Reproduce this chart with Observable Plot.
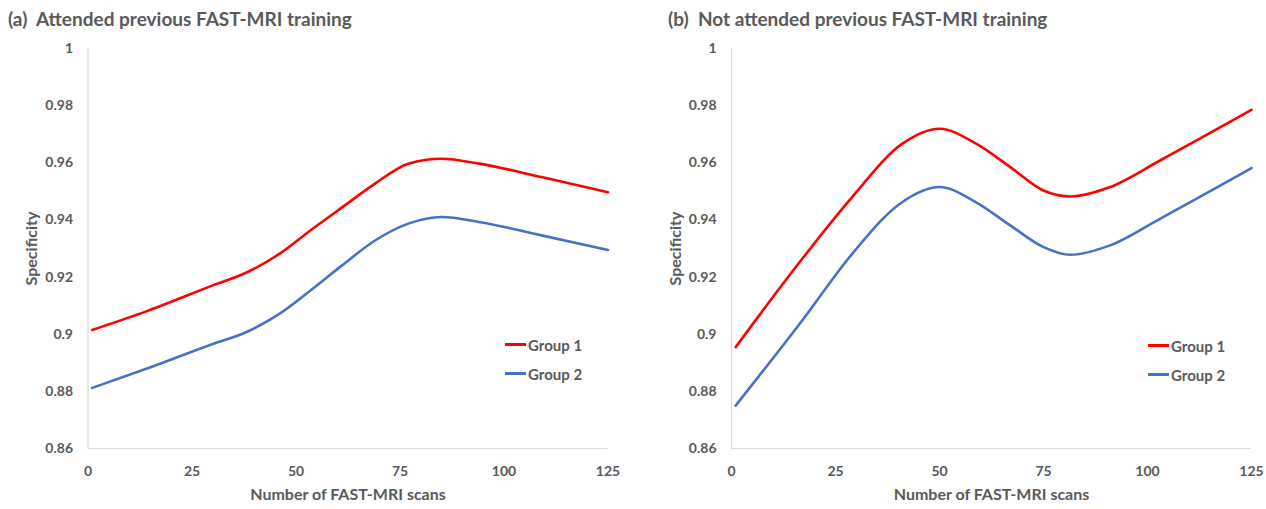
<!DOCTYPE html>
<html>
<head>
<meta charset="utf-8">
<script src="https://cdn.jsdelivr.net/npm/d3@7"></script>
<script src="https://cdn.jsdelivr.net/npm/@observablehq/plot@0.6"></script>
<style>
  html, body { margin: 0; padding: 0; background: #fff; }
  body { width: 1266px; height: 509px; position: relative; overflow: hidden; font-family: Lato, "Open Sans", sans-serif; }
  .panel { position: absolute; top: 0; width: 633px; height: 509px; }
  .title { position: absolute; top: 7px; font-size: 19px; font-weight: bold; color: #595959; white-space: pre; }
  .legend { position: absolute; font-size: 15px; font-weight: bold; color: #595959; }
  .legend div { display: flex; align-items: center; height: 29px; }
  .legend span.sw { display: inline-block; width: 21px; height: 2.5px; margin-right: 2px; }
  .panel svg { position: absolute; left: 0; top: 0; }
</style>
</head>
<body>
<div id="pa" class="panel" style="left:0"></div>
<div id="pb" class="panel" style="left:633px"></div>
<script>
// ---- data ----
const titles = ["(a)  Attended previous FAST-MRI training", "(b)  Not attended previous FAST-MRI training"];
const seriesNames = ["Group 1", "Group 2"];
const seriesColors = ["#FF0000", "#4472C4"];
const xTicks = [0, 25, 50, 75, 100, 125];
const yTicks = [0.86, 0.88, 0.9, 0.92, 0.94, 0.96, 0.98, 1];
const xLabel = "Number of FAST-MRI scans";
const yLabel = "Specificity";

// Panel (a)
const scansA  = [1, 14, 30, 38, 46, 54, 61, 69, 77, 85, 94, 109, 125];
const group1A = [0.9015, 0.908, 0.9171, 0.9215, 0.9281, 0.9369, 0.9443, 0.9527, 0.9597, 0.9614, 0.9597, 0.955, 0.9497];
const group2A = [0.8812, 0.8879, 0.8966, 0.9007, 0.9071, 0.9159, 0.924, 0.9328, 0.9387, 0.941, 0.9393, 0.9346, 0.9295];

// Panel (b)
const scansB  = [1, 17, 29, 41, 50, 59, 67, 75, 81.5, 91, 103, 125];
const group1B = [0.8955, 0.9264, 0.948, 0.9666, 0.9719, 0.9665, 0.9585, 0.9503, 0.9482, 0.9515, 0.9608, 0.9785];
const group2B = [0.875, 0.9048, 0.9281, 0.9462, 0.9515, 0.946, 0.9381, 0.9305, 0.9278, 0.9311, 0.9404, 0.9581];

function rows(xs, ys, name) { return xs.map((x, i) => ({x, y: ys[i], series: name})); }

const panels = [
  {el: "pa", title: titles[0], data: [...rows(scansA, group1A, seriesNames[0]), ...rows(scansA, group2A, seriesNames[1])],
   marginLeft: 87.5, marginRight: 25.5, legendLeft: 505, legendTop: 330},
  {el: "pb", title: titles[1], data: [...rows(scansB, group1B, seriesNames[0]), ...rows(scansB, group2B, seriesNames[1])],
   marginLeft: 98, marginRight: 15, legendLeft: 515, legendTop: 331}
];

const fmt = d => String(+d.toFixed(2));

for (const p of panels) {
  const host = document.getElementById(p.el);
  const chart = Plot.plot({
    width: 633,
    height: 509,
    marginTop: 48,
    marginBottom: 61,
    marginLeft: p.marginLeft,
    marginRight: p.marginRight,
    style: {fontFamily: "Lato, 'Open Sans', sans-serif", color: "#595959", background: "white"},
    x: {domain: [0, 125]},
    y: {domain: [0.86, 1]},
    color: {domain: seriesNames, range: seriesColors},
    marks: [
      Plot.ruleY([0.86], {stroke: "#d9d9d9", strokeWidth: 1.2}),
      Plot.ruleX([0], {y1: 0.86, y2: 1, stroke: "#d9d9d9", strokeWidth: 1.2}),
      Plot.axisX(xTicks, {tickSize: 0, tickPadding: 18, tickFormat: d => String(d), fontSize: 14, fontWeight: "bold", label: null, fill: "#595959"}),
      Plot.axisY(yTicks, {tickSize: 0, tickPadding: 15, tickFormat: fmt, fontSize: 14, fontWeight: "bold", label: null, fill: "#595959"}),
      Plot.line(p.data, {x: "x", y: "y", z: "series", stroke: "series", strokeWidth: 2.6, curve: "monotone-x"}),
      Plot.text([xLabel], {frameAnchor: "bottom", dy: 51, fontSize: 16, fontWeight: "bold", fill: "#595959"}),
      Plot.text([yLabel], {frameAnchor: "left", textAnchor: "middle", dx: -56, rotate: -90, fontSize: 16, fontWeight: "bold", fill: "#595959"})
    ]
  });
  host.appendChild(chart);

  const t = document.createElement("div");
  t.className = "title";
  t.style.left = p.el === "pa" ? "8px" : "35px";
  t.textContent = p.title;
  host.appendChild(t);

  const lg = document.createElement("div");
  lg.className = "legend";
  lg.style.left = p.legendLeft + "px";
  lg.style.top = p.legendTop + "px";
  seriesNames.forEach((n, i) => {
    const row = document.createElement("div");
    const sw = document.createElement("span");
    sw.className = "sw";
    sw.style.background = seriesColors[i];
    row.appendChild(sw);
    row.appendChild(document.createTextNode(n));
    lg.appendChild(row);
  });
  host.appendChild(lg);
}
</script>
</body>
</html>
